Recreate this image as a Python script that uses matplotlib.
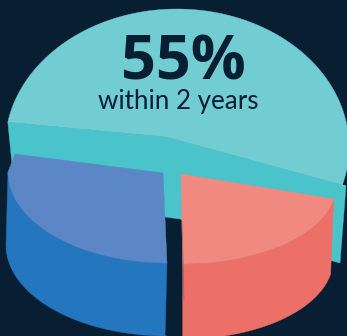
import numpy as np
import matplotlib
matplotlib.use("Agg")
import matplotlib.pyplot as plt
from matplotlib.patches import Polygon

# Share of each slice, in percent
segments = ["within 2 years", "2 to 5 years", "over 5 years"]
shares = [55, 25, 20]
headline = "55%"

BG = "#071e33"
W, H = 347, 336

fig = plt.figure(figsize=(W / 100, H / 100), dpi=100, facecolor=BG)
ax = fig.add_axes([0, 0, 1, 1])
ax.set_xlim(0, W)
ax.set_ylim(H, 0)
ax.axis("off")


def arc(center, radii, start, sweep, n=120):
    """Points along an ellipse in pixel space; sweep runs clockwise on screen."""
    t = np.radians(np.linspace(start, start - sweep, n))
    return np.column_stack([center[0] + radii[0] * np.cos(t),
                            center[1] - radii[1] * np.sin(t)])


def sweep_of(share, perspective):
    # Foreshortening of the tilted pie stretches or squeezes each slice's angle
    return share * 3.6 * perspective


def fill(points, color, z):
    ax.add_patch(Polygon(points, closed=True, facecolor=color, edgecolor=color,
                         linewidth=0.3, zorder=z))


# Large slice, pulled back, with its two cut faces hanging below the rim
teal_apex = np.array([167, 137])
teal_rim = arc((177, 147), (172, 138), 169.6, sweep_of(shares[0], 0.94))
teal_tip = np.array([346, 186])
teal_top = np.vstack([teal_apex, teal_rim, teal_tip])
teal_wall = np.array([teal_rim[0], teal_apex, teal_tip,
                      teal_tip + (-6, 77), teal_apex + (13, 82),
                      teal_apex + (-2, 80), teal_rim[0] + (8, 80)])
fill(teal_wall, "#4ac3cb", 1)
fill(teal_top, "#72cdd3", 2)

# Left slice, its rim ending in a short chamfer up to the back corner
blue_top_rim = arc((167, 172), (159, 91), 270, sweep_of(shares[1], 1.0))
blue_low_rim = arc((167, 245), (161, 91), 270, sweep_of(shares[1], 1.0))
blue_top = np.vstack([[163, 173], [15, 154], blue_top_rim[::-1], [[167, 263]]])
blue_wall = np.vstack([blue_top_rim, blue_low_rim[::-1], [[165, 336]]])
fill(blue_wall, "#2476bf", 3)
fill(blue_top, "#5c87c6", 4)

# Right slice
coral_start = -10.2
coral_top_rim = arc((183, 185), (153, 79), coral_start, sweep_of(shares[2], 1.11))
coral_low_rim = arc((183, 260), (150, 79), coral_start, sweep_of(shares[2], 1.11))
coral_top = np.vstack([[181, 174], coral_top_rim])
coral_wall = np.vstack([coral_top_rim, coral_low_rim[::-1]])
fill(coral_wall, "#ec6f68", 3)
fill(coral_top, "#f08a80", 4)
ax.plot([182, 184], [222, 300], color="#a8626a", lw=0.6, zorder=5)

ax.text(183.5, 80, headline, ha="center", va="baseline", color=BG,
        fontsize=44, fontweight="bold", family="Open Sans", zorder=6)
ax.text(178, 108.5, segments[0], ha="center", va="baseline", color=BG,
        fontsize=18.7, family="Lato", zorder=6)

fig.savefig("out.png", dpi=100, facecolor=BG)
